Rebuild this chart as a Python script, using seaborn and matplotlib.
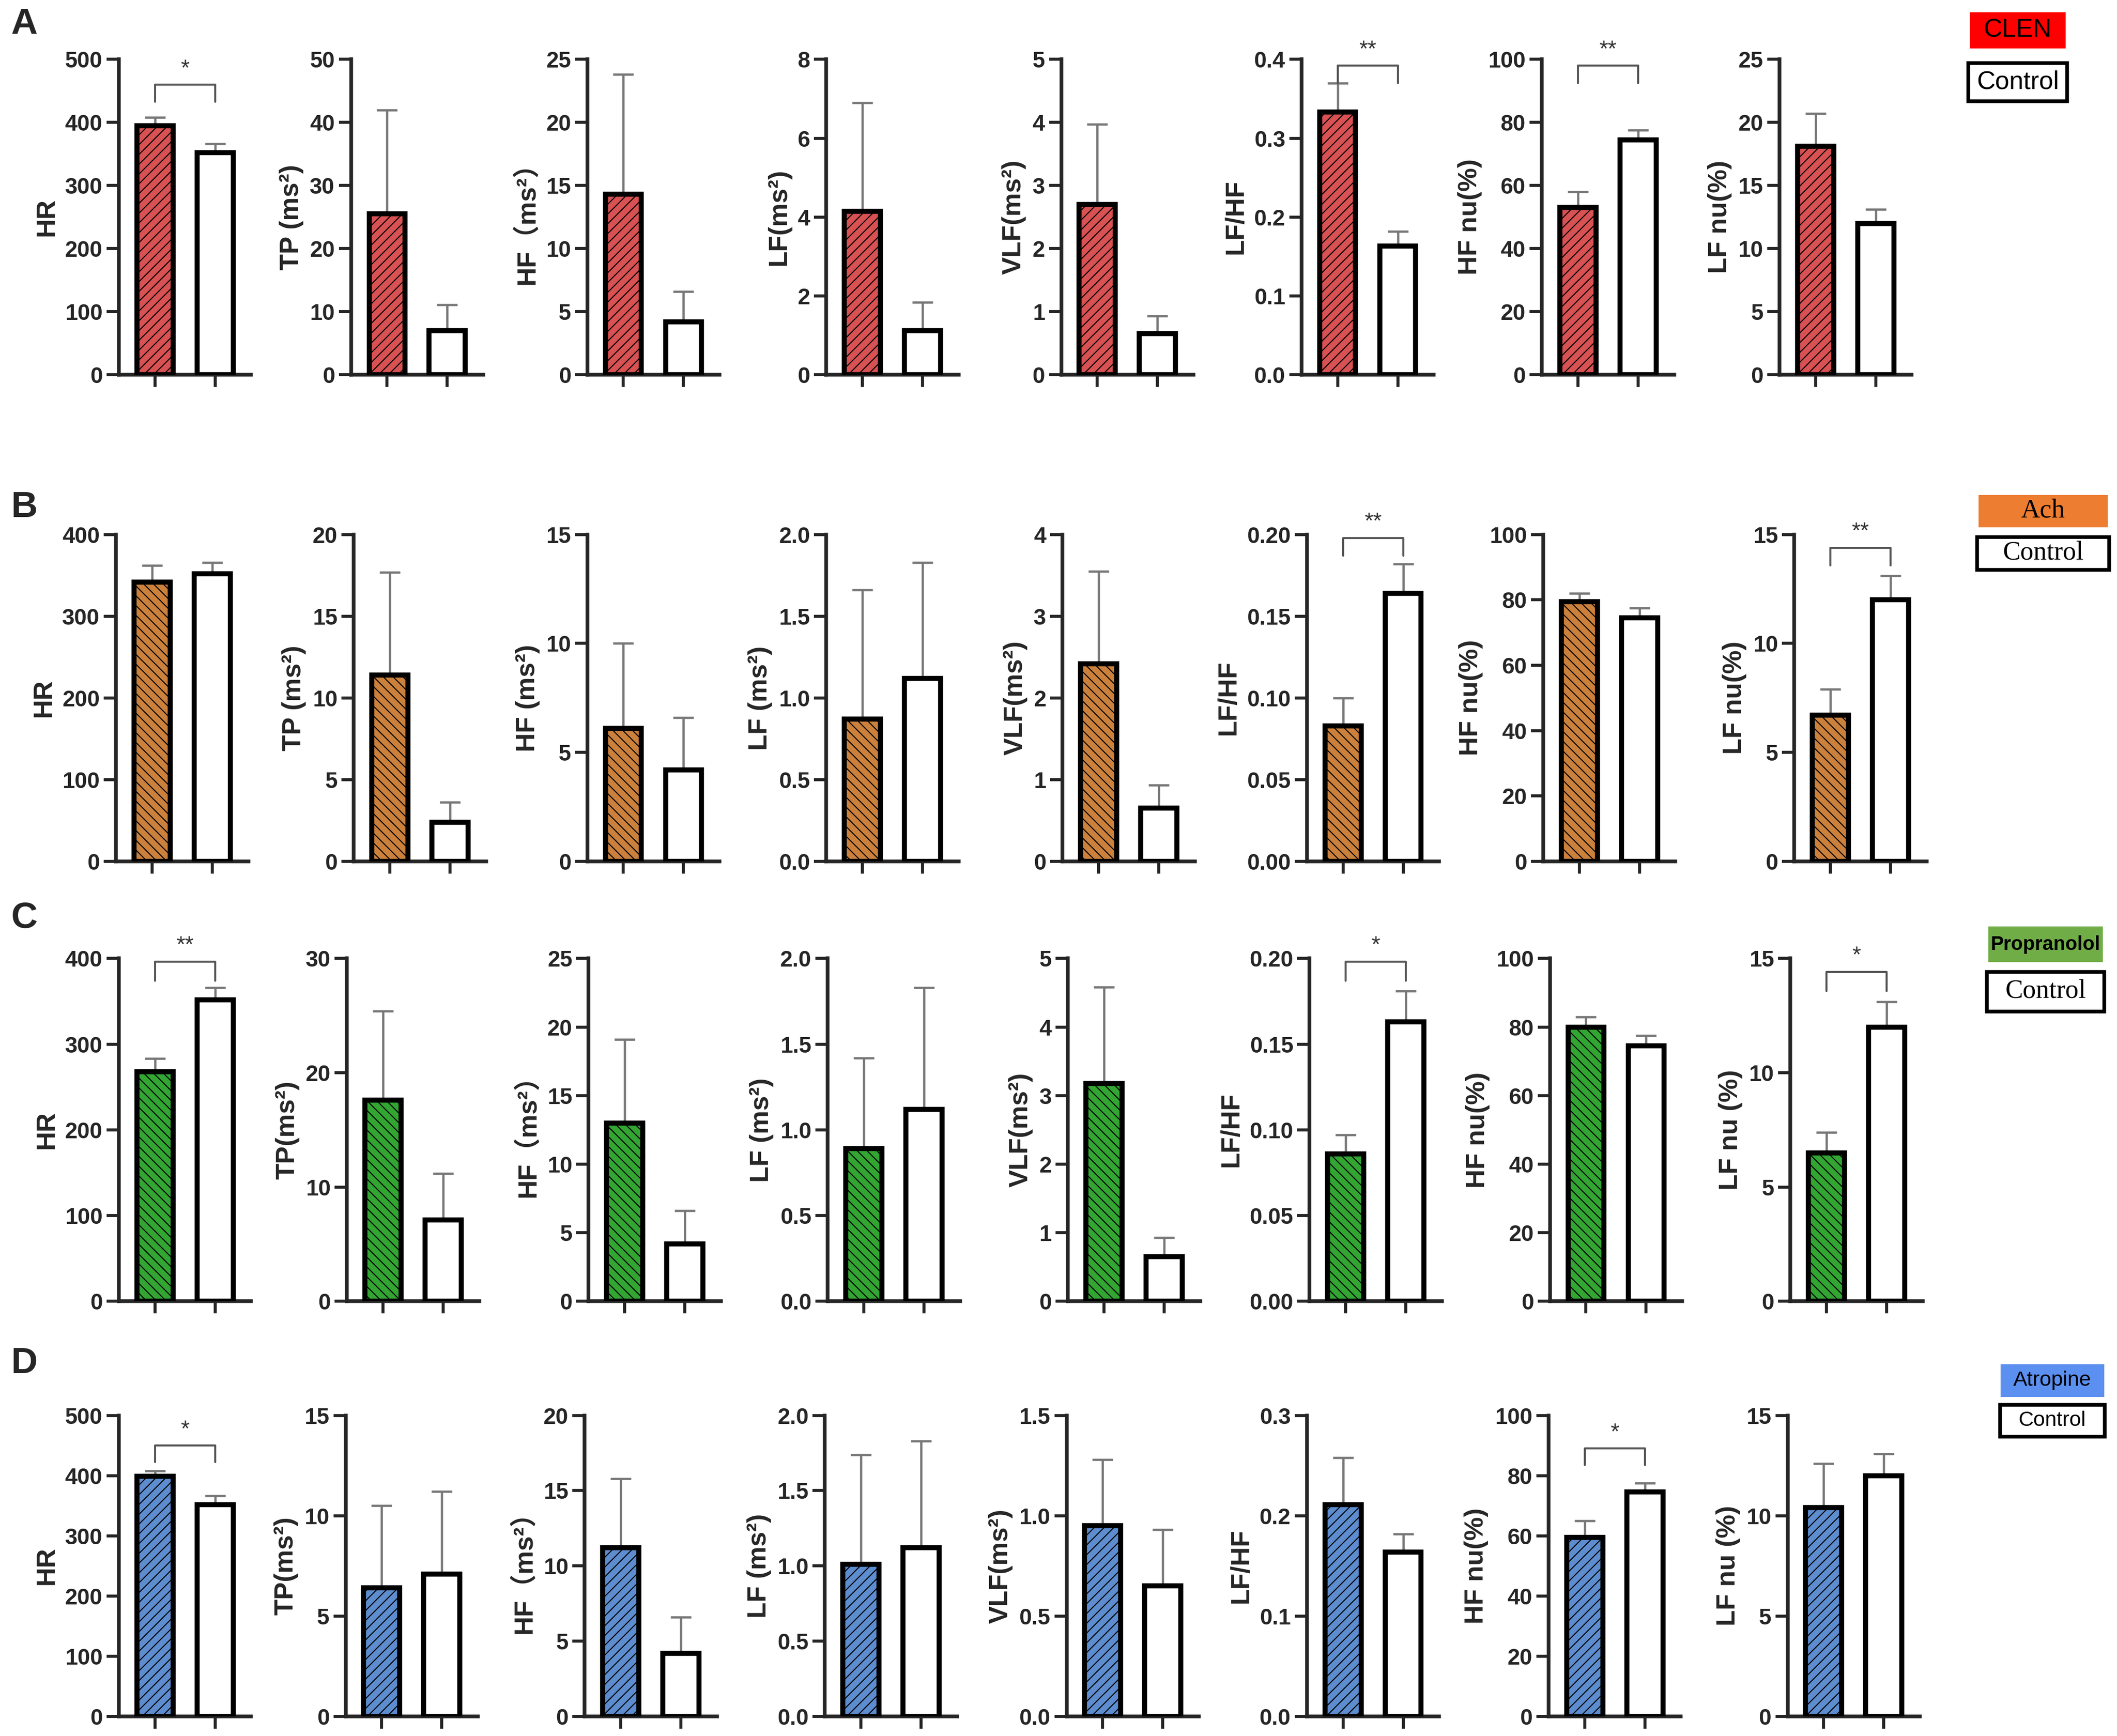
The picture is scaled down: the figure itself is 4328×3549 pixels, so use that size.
import matplotlib
matplotlib.use("Agg")
import matplotlib.pyplot as plt
from matplotlib.patches import Rectangle
import seaborn as sns
import pandas as pd

# ---- data (mean and upper error) ----
metrics = ["HR", "TP", "HF", "LF", "VLF", "LF/HF", "HF nu", "LF nu"]

# A : CLEN vs Control
a_labels = ["HR", "TP (ms²)", "HF（ms²）", "LF(ms²)", "VLF(ms²)", "LF/HF", "HF nu(%)", "LF nu(%)"]
a_drug = [395, 25.5, 14.3, 4.15, 2.7, 0.333, 53, 18.1]
a_drug_err = [13, 16.5, 9.5, 2.75, 1.27, 0.037, 5, 2.6]
a_ctrl = [352, 7.0, 4.2, 1.12, 0.65, 0.163, 74.5, 12.0]
a_ctrl_err = [14, 4.1, 2.4, 0.72, 0.28, 0.019, 3, 1.1]
a_ymax = [500, 50, 25, 8, 5, 0.4, 100, 25]
a_step = [100, 10, 5, 2, 1, 0.1, 20, 5]
a_sig = {0: ("*", 0.92), 5: ("**", 0.98), 6: ("**", 0.98)}

# B : Ach vs Control
b_labels = ["HR", "TP (ms²)", "HF (ms²)", "LF (ms²)", "VLF(ms²)", "LF/HF", "HF nu(%)", "LF nu(%)"]
b_drug = [342, 11.4, 6.1, 0.87, 2.42, 0.083, 79.5, 6.7]
b_drug_err = [20, 6.3, 3.9, 0.79, 1.13, 0.017, 2.5, 1.2]
b_ctrl = [352, 2.4, 4.2, 1.12, 0.65, 0.164, 74.5, 12.0]
b_ctrl_err = [14, 1.2, 2.4, 0.71, 0.28, 0.018, 3, 1.1]
b_ymax = [400, 20, 15, 2.0, 4, 0.20, 100, 15]
b_step = [100, 5, 5, 0.5, 1, 0.05, 20, 5]
b_sig = {5: ("**", 0.99), 7: ("**", 0.96)}

# C : Propranolol vs Control
c_labels = ["HR", "TP(ms²)", "HF（ms²）", "LF (ms²)", "VLF(ms²)", "LF/HF", "HF nu(%)", "LF nu (%)"]
c_drug = [268, 17.6, 13.0, 0.89, 3.18, 0.086, 80, 6.5]
c_drug_err = [15, 7.8, 6.1, 0.53, 1.4, 0.011, 3, 0.9]
c_ctrl = [352, 7.1, 4.2, 1.12, 0.65, 0.163, 74.5, 12.0]
c_ctrl_err = [14, 4.1, 2.4, 0.71, 0.28, 0.018, 3, 1.1]
c_ymax = [400, 30, 25, 2.0, 5, 0.20, 100, 15]
c_step = [100, 10, 5, 0.5, 1, 0.05, 20, 5]
c_sig = {0: ("**", 0.99), 5: ("*", 0.99), 7: ("*", 0.96)}

# D : Atropine vs Control
d_labels = ["HR", "TP(ms²)", "HF（ms²）", "LF (ms²)", "VLF(ms²)", "LF/HF", "HF nu(%)", "LF nu (%)"]
d_drug = [399, 6.4, 11.2, 1.01, 0.95, 0.211, 59.5, 10.4]
d_drug_err = [9, 4.1, 4.6, 0.73, 0.33, 0.047, 5.5, 2.2]
d_ctrl = [352, 7.1, 4.2, 1.12, 0.65, 0.164, 74.5, 12.0]
d_ctrl_err = [14, 4.1, 2.4, 0.71, 0.28, 0.018, 3, 1.1]
d_ymax = [500, 15, 20, 2.0, 1.5, 0.3, 100, 15]
d_step = [100, 5, 5, 0.5, 0.5, 0.1, 20, 5]
d_sig = {0: ("*", 0.90), 6: ("*", 0.89)}

drugs = ["CLEN", "Ach", "Propranolol", "Atropine"]
bar_colors = ["#ee3b3d", "#e38024", "#1fb81f", "#4a8ae2"]
box_colors = ["#ff0000", "#ed7d31", "#70ad47", "#5b8ff0"]
hatches = ["/////", "\\\\\\\\\\", "\\\\\\\\\\", "/////"]
hatch_colors = ["#9a1e1e", "#7e4000", "#146014", "#21488a"]

rows = [
    (a_labels, a_drug, a_drug_err, a_ctrl, a_ctrl_err, a_ymax, a_step, a_sig),
    (b_labels, b_drug, b_drug_err, b_ctrl, b_ctrl_err, b_ymax, b_step, b_sig),
    (c_labels, c_drug, c_drug_err, c_ctrl, c_ctrl_err, c_ymax, c_step, c_sig),
    (d_labels, d_drug, d_drug_err, d_ctrl, d_ctrl_err, d_ymax, d_step, d_sig),
]

# ---- layout (pixel positions measured on a 1568x1286 view) ----
W, H = 1568, 1286
row_top = [44, 396, 710, 1048.5]
row_bot = [277.5, 638, 964, 1271.5]
row_x = [
    [88, 260, 435, 612, 786, 964, 1142, 1318],
    [86, 262, 435, 612, 787, 968, 1143, 1329],
    [88, 257, 436, 613, 791, 970, 1148, 1326],
    [88, 256, 433, 611, 790, 968, 1147, 1324],
]
ax_w = 98

sns.set_style("ticks")
plt.rcParams["font.family"] = ["Liberation Sans", "Noto Sans CJK SC", "DejaVu Sans"]
plt.rcParams["hatch.linewidth"] = 0.5

fig = plt.figure(figsize=(4328 / 300, 3549 / 300), dpi=300)


def decimals(step):
    s = repr(step)
    return len(s.split(".")[1]) if step < 1 else 0


for r, (labels, drug, drug_err, ctrl, ctrl_err, ymax, step, sig) in enumerate(rows):
    for i in range(len(metrics)):
        x0 = row_x[r][i]
        ax = fig.add_axes([x0 / W, 1 - row_bot[r] / H, ax_w / W, (row_bot[r] - row_top[r]) / H])
        df = pd.DataFrame({"group": [drugs[r], "Control"], "value": [drug[i], ctrl[i]]})
        sns.barplot(data=df, x="group", y="value", hue="group",
                    palette=[bar_colors[r], "white"], legend=False,
                    edgecolor="black", linewidth=2.5, width=0.6,
                    errorbar=None, ax=ax, zorder=3)
        p = ax.patches[0]
        p.set_hatch(hatches[r])
        if hasattr(p, "set_hatchcolor"):
            p.set_hatchcolor(hatch_colors[r])
        ax.errorbar([0, 1], [drug[i], ctrl[i]], yerr=[[0, 0], [drug_err[i], ctrl_err[i]]],
                    fmt="none", ecolor="#777777", elinewidth=1.1, capsize=5,
                    capthick=1.1, zorder=2)
        ax.set_xlim(-0.6, 1.6)
        ax.set_ylim(0, ymax[i])
        nt = int(round(ymax[i] / step[i]))
        ticks = [k * step[i] for k in range(nt + 1)]
        nd = decimals(step[i])
        ax.set_yticks(ticks)
        ax.set_yticklabels([f"{t:.{nd}f}" for t in ticks], fontsize=11, fontweight="bold")
        ax.set_xticks([0, 1])
        ax.set_xticklabels(["", ""])
        ax.set_xlabel("")
        ax.set_ylabel(labels[i], fontsize=13, fontweight="bold", labelpad=3)
        ax.tick_params(axis="both", length=6, width=1.5, direction="out", pad=2)
        sns.despine(ax=ax)
        for s in ["left", "bottom"]:
            ax.spines[s].set_linewidth(1.8)
        if i in sig:
            star, frac = sig[i]
            yb = frac * ymax[i]
            leg = 0.055 * ymax[i]
            ax.plot([0, 0, 1, 1], [yb - leg, yb, yb, yb - leg], color="#555555",
                    lw=1.0, clip_on=False, zorder=4)
            ax.text(0.5, yb + 0.015 * ymax[i], star, ha="center", va="bottom",
                    fontsize=11, color="#333333", clip_on=False)

# panel letters
for letter, y in zip("ABCD", [18, 376, 680, 1010]):
    fig.text(18 / W, 1 - y / H, letter, fontsize=18, fontweight="bold",
             ha="center", va="center")

# group key boxes (centre x, centre y, width, height in output pixels)
key_boxes = [
    [(4125, 62, 196, 74), (4125, 168, 202, 78)],
    [(4177, 1045, 264, 65), (4177, 1131, 270, 67)],
    [(4182, 1931, 234, 73), (4182, 2027, 240, 81)],
    [(4196, 2822, 212, 67), (4196, 2904, 214, 65)],
]
key_fonts = [
    [dict(family=["Liberation Sans"], size=12.5), dict(family=["Liberation Sans"], size=12.5)],
    [dict(family=["Liberation Serif"], size=13), dict(family=["Liberation Serif"], size=13)],
    [dict(family=["Liberation Sans"], size=9.6, weight="bold"), dict(family=["Liberation Serif"], size=13)],
    [dict(family=["Liberation Sans"], size=10.3), dict(family=["Liberation Sans"], size=10.3)],
]
FW, FH = 4328, 3549
for r in range(4):
    for k, (cx, cy, bw, bh) in enumerate(key_boxes[r]):
        if k == 0:
            rect = Rectangle(((cx - bw / 2) / FW, 1 - (cy + bh / 2) / FH), bw / FW, bh / FH,
                             transform=fig.transFigure, facecolor=box_colors[r],
                             edgecolor="none", zorder=5)
            txt = drugs[r]
        else:
            rect = Rectangle(((cx - bw / 2) / FW, 1 - (cy + bh / 2) / FH), bw / FW, bh / FH,
                             transform=fig.transFigure, facecolor="white",
                             edgecolor="black", linewidth=1.8, zorder=5)
            txt = "Control"
        fig.add_artist(rect)
        fig.text(cx / FW, 1 - cy / FH, txt, ha="center", va="center", color="black",
                 zorder=10, **key_fonts[r][k])

fig.savefig("out.png", dpi=300, facecolor="white")
